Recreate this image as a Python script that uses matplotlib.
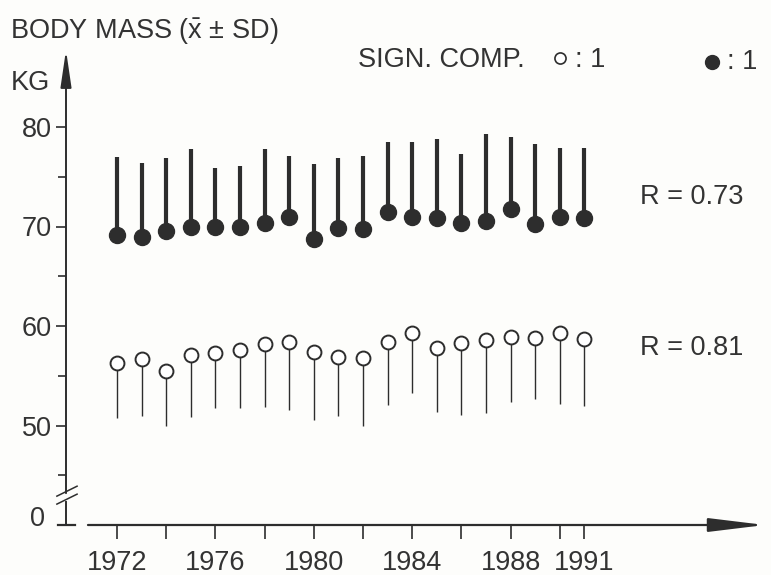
"""Body mass (mean +/- SD) per year, two groups, with a broken y axis."""

import matplotlib
matplotlib.use("Agg")  # no display
import matplotlib.pyplot as plt

# ---- data ----------------------------------------------------------------
years = list(range(1972, 1992))
filled_mean = [69.1, 68.9, 69.5, 69.9, 69.9, 69.9, 70.4, 71.0, 68.7, 69.8,
               69.7, 71.5, 71.0, 70.9, 70.4, 70.6, 71.8, 70.3, 71.0, 70.9]
filled_sd = [7.9, 7.5, 7.4, 7.9, 6.0, 6.2, 7.4, 6.1, 7.6, 7.1,
             7.4, 7.0, 7.5, 7.9, 6.9, 8.7, 7.2, 8.0, 6.9, 7.0]
open_mean = [56.3, 56.7, 55.5, 57.1, 57.3, 57.6, 58.2, 58.4, 57.4, 56.9,
             56.8, 58.4, 59.3, 57.8, 58.3, 58.6, 58.9, 58.8, 59.3, 58.7]
open_sd = [5.5, 5.7, 5.5, 6.2, 5.5, 5.8, 6.3, 6.8, 6.8, 5.9,
           6.8, 6.3, 6.0, 6.4, 7.2, 7.3, 6.5, 6.1, 7.1, 6.7]

tick_years = [1972, 1974, 1976, 1978, 1980, 1982, 1984, 1986, 1988, 1990, 1991]
labelled_years = [1972, 1976, 1980, 1984, 1988, 1991]
ytick_vals = [50, 60, 70, 80]
ytick_minor = [45, 55, 65, 75]
r_texts = ["R = 0.73", "R = 0.81"]
r_levels = [73.0, 57.8]

INK = "#2d2d2d"
TXT = "#333333"
FS = 19.5

plt.rcParams["font.family"] = ["Liberation Sans", "DejaVu Sans"]
plt.rcParams["mathtext.fontset"] = "custom"
plt.rcParams["mathtext.rm"] = "Liberation Sans"
plt.rcParams["mathtext.it"] = "Liberation Sans:italic"

W, H = 771, 575
fig = plt.figure(figsize=(W / 100, H / 100), dpi=100)
fig.patch.set_facecolor("#fdfdfb")
ax = fig.add_axes([66 / W, (H - 525) / H, (765 - 66) / W, (525 - 50) / H])
ax.set_facecolor("none")

PX_YEAR = 24.6          # pixels per year
PX_KG = 9.95            # pixels per kg
x0 = 1972 - (117 - 66) / PX_YEAR
x1 = 1972 + (765 - 117) / PX_YEAR
Y0 = 40                 # where "0" sits once the axis is broken
ytop = 80 + (127 - 50) / PX_KG
ax.set_xlim(x0, x1)
ax.set_ylim(Y0, ytop)

# ---- marks ---------------------------------------------------------------
ax.vlines(years, filled_mean, [m + s for m, s in zip(filled_mean, filled_sd)],
          colors=INK, lw=3.0, zorder=2)
ax.plot(years, filled_mean, "o", ms=11.5, color=INK, zorder=3)

ax.vlines(years, [m - s for m, s in zip(open_mean, open_sd)], open_mean,
          colors=INK, lw=1.0, zorder=2)
ax.plot(years, open_mean, "o", ms=10, mfc="white", mec=INK, mew=1.4, zorder=3)

# ---- axes ----------------------------------------------------------------
for s in ax.spines.values():
    s.set_visible(False)

ax.set_yticks(ytick_vals, [str(v) for v in ytick_vals])
ax.set_yticks(ytick_minor, minor=True)
ax.tick_params(axis="y", which="major", length=7, width=1.2, pad=3,
               labelsize=FS, color=INK, labelcolor=TXT)
ax.tick_params(axis="y", which="minor", length=6, width=1.2, color=INK)
# the "0" below the break sits a little above the foot of the axis
ax.text(43 / W - 66 / W, 40.6, "0", transform=ax.get_yaxis_transform(),
        fontsize=FS, color=TXT, ha="right", va="center")

ax.set_xticks(tick_years,
              [str(y) if y in labelled_years else "" for y in tick_years])
ax.tick_params(axis="x", length=10, width=1.2, pad=8,
               labelsize=FS, color=INK, labelcolor=TXT)

# y axis with arrow and the break
ax.annotate("", xy=(x0, ytop), xytext=(x0, 43.2), annotation_clip=False,
            arrowprops=dict(arrowstyle="-|>,head_length=1.5,head_width=0.22",
                            lw=1.4, color=INK, mutation_scale=15,
                            shrinkA=0, shrinkB=0))
ax.plot([x0, x0], [Y0, 42.3], color=INK, lw=1.4, clip_on=False)
ax.plot([x0 - 0.33, x0 + 0.37], [Y0, Y0], color=INK, lw=1.6, clip_on=False)
ax.plot([x0 - 0.37, x0 + 0.45], [42.9, 43.9], color=INK, lw=1.1, clip_on=False)
ax.plot([x0 - 0.37, x0 + 0.45], [42.1, 43.1], color=INK, lw=1.1, clip_on=False)

# x axis with arrow
ax.annotate("", xy=(x1, Y0), xytext=(1970.82, Y0), annotation_clip=False,
            arrowprops=dict(arrowstyle="-|>,head_length=2.3,head_width=0.28",
                            lw=1.6, color=INK, mutation_scale=15,
                            shrinkA=0, shrinkB=0))

# ---- texts ---------------------------------------------------------------
fig.text(10 / W, 1 - 32 / H, r"BODY MASS ($\bar{\mathrm{x}}$ ± SD)",
         fontsize=FS, color=TXT, va="center")
fig.text(11 / W, 1 - 83 / H, "KG", fontsize=FS, color=TXT, va="center")
fig.text(358 / W, 1 - 60 / H, "SIGN. COMP.", fontsize=FS, color=TXT,
         va="center")

# legend keys
fig.lines.append(plt.Line2D([560 / W], [1 - 58 / H], marker="o", ms=8,
                            mfc="white", mec=INK, mew=1.2,
                            transform=fig.transFigure))
fig.text(575 / W, 1 - 60 / H, ": 1", fontsize=FS, color=TXT, va="center")
fig.lines.append(plt.Line2D([712 / W], [1 - 62 / H], marker="o", ms=10,
                            color=INK, transform=fig.transFigure))
fig.text(727 / W, 1 - 62 / H, ": 1", fontsize=FS, color=TXT, va="center")

for txt, lvl in zip(r_texts, r_levels):
    ax.text(1972 + (640 - 117) / PX_YEAR, lvl, txt, fontsize=FS, color=TXT,
            va="center")

fig.savefig("out.png", dpi=100)
